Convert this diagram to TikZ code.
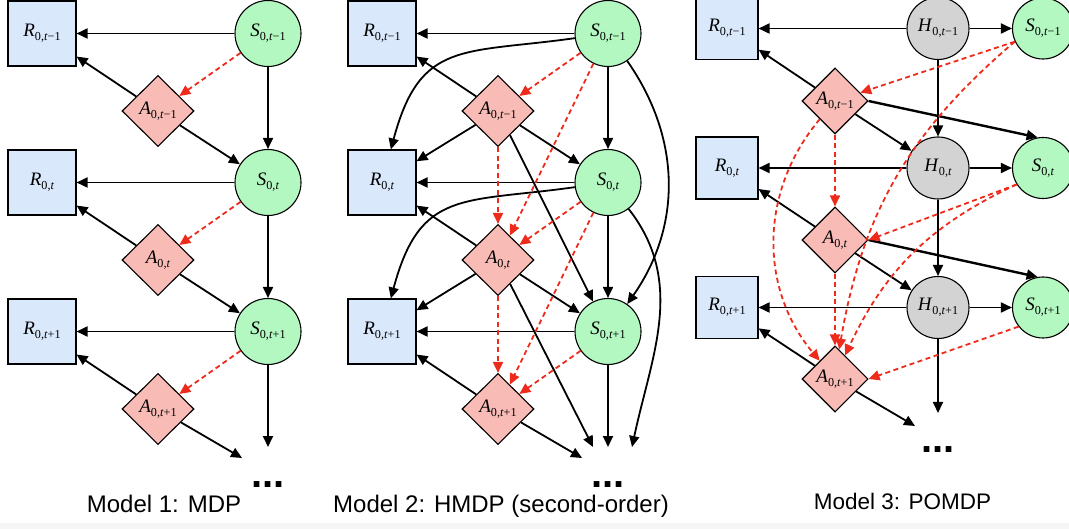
\documentclass[tikz,border=0pt]{standalone}
\usepackage{fontspec}
\newfontfamily\capfont{Liberation Sans}
\newfontfamily\labelserif{Liberation Serif}
\usetikzlibrary{arrows.meta,shapes.geometric}

\definecolor{rewardblue}{HTML}{DAE8FC}
\definecolor{stategreen}{HTML}{B3F7C1}
\definecolor{actionpink}{HTML}{F8BBB5}
\definecolor{hiddengray}{HTML}{D3D3D3}
\definecolor{policyred}{HTML}{EE2A1B}

\newcommand{\labelfont}{\labelserif\fontsize{19}{21}\selectfont}
\makeatletter
\newcommand{\varsub}[2]{\textit{#1}\raisebox{-0.2em}{\fontsize{\the\dimexpr0.64\dimexpr\f@size pt\relax\relax}{1pt}\selectfont 0,\textit{t}#2}}
\makeatother

\tikzset{
  reward/.style={draw, fill=rewardblue, line width=1.1pt, minimum width=68pt, minimum height=65pt, inner sep=0pt, font=\labelfont},
  state/.style={circle, draw, fill=stategreen, line width=1.1pt, minimum size=66pt, inner sep=0pt, font=\labelfont},
  hidden/.style={circle, draw, fill=hiddengray, line width=1.1pt, minimum size=62pt, inner sep=0pt, font=\labelfont},
  action/.style={diamond, draw, fill=actionpink, line width=1.1pt, minimum width=72pt, minimum height=71pt, inner sep=0pt, font=\labelfont},
  edge/.style={line width=1.8pt, -{Triangle[length=11pt,width=10pt]}},
  thickedge/.style={edge, line width=2.4pt},
  policy/.style={draw=policyred, line width=1.8pt, dash pattern=on 5pt off 3.5pt, -{Triangle[length=11pt,width=10pt,fill=policyred]}},
  caption/.style={anchor=base, font=\capfont\fontsize{24}{28}\selectfont},
  dots/.style={anchor=base, font=\capfont\bfseries\fontsize{40}{40}\selectfont},
}

\begin{document}
\begin{tikzpicture}[x=1pt,y=1pt]
	\useasboundingbox (0,0) rectangle (1069,-529);
	\fill[gray!7] (0,-523) rectangle (1069,-529);% bottom strip
	
	% Model 1: MDP
	\node[reward] (MdpR1) at (42,-33.5)  {\varsub{R}{−1}};
	\node[reward] (MdpR2) at (42,-182.5) {\varsub{R}{}};
	\node[reward] (MdpR3) at (42,-331.5) {\varsub{R}{+1}};
	\node[state]  (MdpS1) at (268,-33.5)  {\varsub{S}{−1}};
	\node[state]  (MdpS2) at (268,-182.5) {\varsub{S}{}};
	\node[state]  (MdpS3) at (268,-331.5) {\varsub{S}{+1}};
	\node[action] (MdpA1) at (158,-111) {\varsub{A}{−1}};
	\node[action] (MdpA2) at (158,-260) {\varsub{A}{}};
	\node[action] (MdpA3) at (158,-409) {\varsub{A}{+1}};
	\coordinate (MdpEndS) at (268,-447);
	\coordinate (MdpEndA) at (242,-458);
	
	\draw[edge] (MdpS1) -- (MdpR1);
	\draw[edge] (MdpS2) -- (MdpR2);
	\draw[edge] (MdpS3) -- (MdpR3);
	\draw[edge] (MdpS1) -- (MdpS2);
	\draw[edge] (MdpS2) -- (MdpS3);
	\draw[edge] (MdpS3) -- (MdpEndS);
	\draw[edge] (MdpA1) -- (MdpR1);
	\draw[edge] (MdpA2) -- (MdpR2);
	\draw[edge] (MdpA3) -- (MdpR3);
	\draw[edge] (MdpA1) -- (MdpS2);
	\draw[edge] (MdpA2) -- (MdpS3);
	\draw[edge] (MdpA3) -- (MdpEndA);
	\draw[policy] (MdpS1) -- (MdpA1);
	\draw[policy] (MdpS2) -- (MdpA2);
	\draw[policy] (MdpS3) -- (MdpA3);
	
	\node[dots]    (MdpDots)    at (268,-487) {...};
	\node[caption] (MdpCaption) at (164,-512) {Model 1: MDP};
	
	% Model 2: HMDP (second-order)
	\node[reward] (HmdpR1) at (382,-33.5)  {\varsub{R}{−1}};
	\node[reward] (HmdpR2) at (382,-182.5) {\varsub{R}{}};
	\node[reward] (HmdpR3) at (382,-331.5) {\varsub{R}{+1}};
	\node[state]  (HmdpS1) at (608,-33.5)  {\varsub{S}{−1}};
	\node[state]  (HmdpS2) at (608,-182.5) {\varsub{S}{}};
	\node[state]  (HmdpS3) at (608,-331.5) {\varsub{S}{+1}};
	\node[action] (HmdpA1) at (498,-111) {\varsub{A}{−1}};
	\node[action] (HmdpA2) at (498,-260) {\varsub{A}{}};
	\node[action] (HmdpA3) at (498,-409) {\varsub{A}{+1}};
	\coordinate (HmdpEndS)  at (608,-447);
	\coordinate (HmdpEndC)  at (632,-447);
	\coordinate (HmdpEndA2) at (593,-447);
	\coordinate (HmdpEndA3) at (582,-458);
	
	\draw[edge] (HmdpS1) -- (HmdpR1);
	\draw[edge] (HmdpS2) -- (HmdpR2);
	\draw[edge] (HmdpS3) -- (HmdpR3);
	\draw[edge] (HmdpS1) -- (HmdpS2);
	\draw[edge] (HmdpS2) -- (HmdpS3);
	\draw[edge] (HmdpS3) -- (HmdpEndS);
	\draw[edge] (HmdpS1) to[out=188,in=75,looseness=1.35] (HmdpR2);
	\draw[edge] (HmdpS2) to[out=188,in=75,looseness=1.35] (HmdpR3);
	\draw[edge] (HmdpS1) to[out=-55,in=55] (HmdpS3);
	\draw[edge] (HmdpS2) to[out=-52,in=78] (HmdpEndC);
	\draw[edge] (HmdpA1) -- (HmdpR1);
	\draw[edge] (HmdpA2) -- (HmdpR2);
	\draw[edge] (HmdpA3) -- (HmdpR3);
	\draw[edge] (HmdpA1) -- (HmdpR2);
	\draw[edge] (HmdpA2) -- (HmdpR3);
	\draw[edge] (HmdpA1) -- (HmdpS2);
	\draw[edge] (HmdpA2) -- (HmdpS3);
	\draw[edge] (HmdpA1) -- (HmdpS3);
	\draw[edge] (HmdpA2) -- (HmdpEndA2);
	\draw[edge] (HmdpA3) -- (HmdpEndA3);
	\draw[policy] (HmdpS1) -- (HmdpA1);
	\draw[policy] (HmdpS2) -- (HmdpA2);
	\draw[policy] (HmdpS3) -- (HmdpA3);
	\draw[policy] (HmdpS1) -- (HmdpA2);
	\draw[policy] (HmdpS2) -- (HmdpA3);
	\draw[policy] (HmdpA1) -- (HmdpA2);
	\draw[policy] (HmdpA2) -- (HmdpA3);
	
	\node[dots]    (HmdpDots)    at (608,-487) {...};
	\node[caption] (HmdpCaption) at (501,-512) {Model 2: HMDP (second-order)};
	
	% Model 3: POMDP
	\begin{scope}[reward/.append style={minimum width=62pt, minimum height=62pt},
	              state/.append style={minimum size=61pt},
	              action/.append style={minimum width=66pt, minimum height=66pt},
	              every node/.append style={font=\labelserif\fontsize{17.5}{19}\selectfont}]
	\node[reward] (PomdpR1) at (727,-28.5) {\varsub{R}{−1}};
	\node[reward] (PomdpR2) at (727,-168)  {\varsub{R}{}};
	\node[reward] (PomdpR3) at (727,-307.5) {\varsub{R}{+1}};
	\node[hidden] (PomdpH1) at (938,-28.5) {\varsub{H}{−1}};
	\node[hidden] (PomdpH2) at (938,-168)  {\varsub{H}{}};
	\node[hidden] (PomdpH3) at (938,-307.5) {\varsub{H}{+1}};
	\node[state]  (PomdpS1) at (1043,-28.5) {\varsub{S}{−1}};
	\node[state]  (PomdpS2) at (1043,-168)  {\varsub{S}{}};
	\node[state]  (PomdpS3) at (1043,-307.5) {\varsub{S}{+1}};
	\node[action] (PomdpA1) at (835,-101) {\varsub{A}{−1}};
	\node[action] (PomdpA2) at (835,-240) {\varsub{A}{}};
	\node[action] (PomdpA3) at (835,-379) {\varsub{A}{+1}};
	\end{scope}
	\coordinate (PomdpEndH) at (938,-413);
	\coordinate (PomdpEndA) at (915,-426);
	
	\draw[edge] (PomdpH1) -- (PomdpR1);
	\draw[edge] (PomdpH2) -- (PomdpR2);
	\draw[edge] (PomdpH3) -- (PomdpR3);
	\draw[edge] (PomdpH1) -- (PomdpS1);
	\draw[edge] (PomdpH2) -- (PomdpS2);
	\draw[edge] (PomdpH3) -- (PomdpS3);
	\draw[edge] (PomdpH1) -- (PomdpH2);
	\draw[edge] (PomdpH2) -- (PomdpH3);
	\draw[edge] (PomdpH3) -- (PomdpEndH);
	\draw[edge] (PomdpA1) -- (PomdpR1);
	\draw[edge] (PomdpA2) -- (PomdpR2);
	\draw[edge] (PomdpA3) -- (PomdpR3);
	\draw[edge] (PomdpA1) -- (PomdpH2);
	\draw[edge] (PomdpA2) -- (PomdpH3);
	\draw[edge] (PomdpA3) -- (PomdpEndA);
	\draw[thickedge] (PomdpA1.east) -- (PomdpS2.100);
	\draw[thickedge] (PomdpA2.east) -- (PomdpS3.100);
	\draw[policy] (PomdpS1.205) -- (PomdpA1);
	\draw[policy] (PomdpS2.212) -- (PomdpA2.east);
	\draw[policy] (PomdpS3.218) -- (PomdpA3.east);
	\draw[policy] (PomdpA1) -- (PomdpA2);
	\draw[policy] (PomdpA2) -- (PomdpA3);
	\draw[policy] (PomdpA1) to[bend right=40] (PomdpA3);
	\draw[policy] (PomdpS1.205) to[bend right=20] (PomdpA3);
	\draw[policy] (PomdpS2.212) to[bend right=20] (PomdpA3);
	
	\node[dots]    (PomdpDots)    at (938,-453) {...};
	\node[caption, font=\capfont\fontsize{22.5}{26}\selectfont] (PomdpCaption) at (902.5,-509) {Model 3: POMDP};
\end{tikzpicture}
\end{document}
